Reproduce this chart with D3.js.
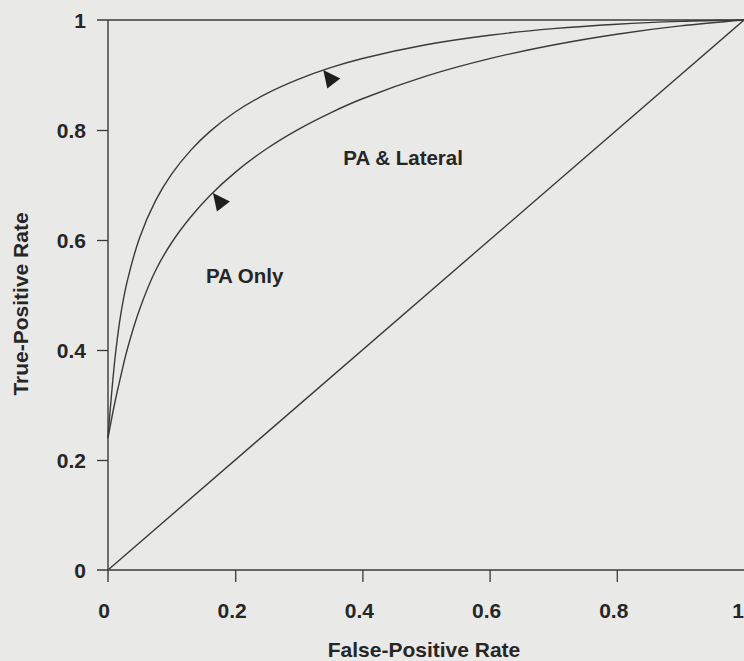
<!DOCTYPE html>
<html>
<head>
<meta charset="utf-8">
<script src="https://cdn.jsdelivr.net/npm/d3@7"></script>
<style>
  html, body { margin: 0; padding: 0; background: #e9e9e7; }
  svg { display: block; }
  text { font-family: "Liberation Sans", Arial, Helvetica, sans-serif; font-weight: bold; fill: #262626; }
</style>
</head>
<body>
<svg id="chart" width="744" height="661"></svg>
<script>
// ---- data ----
const tickValues = [0, 0.2, 0.4, 0.6, 0.8, 1];
const tickLabels = ["0", "0.2", "0.4", "0.6", "0.8", "1"];

// PA & Lateral ROC curve (FPR, TPR)
const paLateralFPR = [0, 0.003, 0.0074, 0.012, 0.02, 0.03, 0.05, 0.075, 0.10, 0.13, 0.16, 0.20, 0.25, 0.30, 0.35, 0.40, 0.50, 0.60, 0.70, 0.80, 0.90, 1];
const paLateralTPR = [0.24, 0.285, 0.343, 0.3955, 0.4645, 0.524, 0.605, 0.672, 0.7197, 0.763, 0.797, 0.8327, 0.8665, 0.8925, 0.9133, 0.930, 0.955, 0.9723, 0.9843, 0.9924, 0.9975, 1];

// PA Only ROC curve (FPR, TPR)
const paOnlyFPR = [0, 0.004, 0.01, 0.02, 0.03, 0.05, 0.075, 0.10, 0.13, 0.16, 0.20, 0.25, 0.30, 0.35, 0.40, 0.50, 0.60, 0.70, 0.80, 0.90, 1];
const paOnlyTPR = [0.24, 0.265, 0.300, 0.352, 0.400, 0.475, 0.545, 0.595, 0.6417, 0.6806, 0.723, 0.7663, 0.8016, 0.8313, 0.8568, 0.8979, 0.9297, 0.9546, 0.9742, 0.9893, 1];

// chance diagonal
const chanceFPR = [0, 1];
const chanceTPR = [0, 1];

// arrow markers (anchor points on curves)
const arrowFPR = [0.3385, 0.165];
const arrowTPR = [0.909, 0.6855];

// curve labels
const labelNames = ["PA & Lateral", "PA Only"];
const labelFPR = [0.37, 0.154];
const labelTPR = [0.736, 0.522];

const xTitle = "False-Positive Rate";
const yTitle = "True-Positive Rate";

// ---- drawing ----
const svg = d3.select("#chart");
const x = d3.scaleLinear().domain([0, 1]).range([108, 744]);
const y = d3.scaleLinear().domain([0, 1]).range([570, 20]);
const lineColor = "#3a3a3a";
const tickLen = 11;

// Y axis
const yAxis = d3.axisLeft(y).tickValues(tickValues.filter(v => v > 0 && v < 1))
  .tickSize(tickLen).tickFormat("");
const gy = svg.append("g").attr("transform", `translate(${x(0)},0)`).call(yAxis);
gy.select(".domain").remove();
gy.selectAll(".tick line").attr("stroke", lineColor).attr("stroke-width", 1.3);

// X axis
const xAxis = d3.axisBottom(x).tickValues(tickValues.filter(v => v > 0 && v < 1))
  .tickSize(tickLen + 1).tickFormat("");
const gx = svg.append("g").attr("transform", `translate(0,${y(0)})`).call(xAxis);
gx.select(".domain").remove();
gx.selectAll(".tick line").attr("stroke", lineColor).attr("stroke-width", 1.3);

// axis lines and frame top
svg.append("line").attr("x1", x(0)).attr("x2", x(0)).attr("y1", y(1)).attr("y2", y(0) + tickLen + 1)
  .attr("stroke", lineColor).attr("stroke-width", 1.4);
svg.append("line").attr("x1", x(0) - tickLen).attr("x2", x(1)).attr("y1", y(0)).attr("y2", y(0))
  .attr("stroke", lineColor).attr("stroke-width", 1.4);
svg.append("line").attr("x1", x(0) - tickLen).attr("x2", x(1)).attr("y1", y(1)).attr("y2", y(1))
  .attr("stroke", lineColor).attr("stroke-width", 1.4);

// tick labels
svg.append("g").selectAll("text").data(tickValues).join("text")
  .attr("x", 86).attr("y", d => y(d)).attr("dy", "0.36em")
  .attr("text-anchor", "end").attr("font-size", 21)
  .text((d, i) => tickLabels[i]);
svg.append("g").selectAll("text").data(tickValues).join("text")
  .attr("x", d => d === 1 ? x(d) : x(d) - (d === 0 ? 4 : 3)).attr("y", 618)
  .attr("text-anchor", d => d === 1 ? "end" : "middle").attr("font-size", 21)
  .text((d, i) => tickLabels[i]);

// axis titles
svg.append("text").attr("x", 424).attr("y", 657).attr("text-anchor", "middle")
  .attr("font-size", 21).text(xTitle);
svg.append("text").attr("transform", `translate(28,304) rotate(-90)`)
  .attr("text-anchor", "middle").attr("font-size", 21).text(yTitle);

// curves
const smooth = d3.line().x(d => x(d[0])).y(d => y(d[1])).curve(d3.curveCatmullRom.alpha(0.5));
const straight = d3.line().x(d => x(d[0])).y(d => y(d[1]));
const series = [
  d3.zip(chanceFPR, chanceTPR),
  d3.zip(paLateralFPR, paLateralTPR),
  d3.zip(paOnlyFPR, paOnlyTPR)
];
svg.append("g").selectAll("path").data(series).join("path")
  .attr("d", (d, i) => i === 0 ? straight(d) : smooth(d))
  .attr("fill", "none").attr("stroke", lineColor).attr("stroke-width", 1.4);

// arrowheads
svg.append("g").selectAll("path").data(d3.zip(arrowFPR, arrowTPR)).join("path")
  .attr("transform", d => `translate(${x(d[0])},${y(d[1])})`)
  .attr("d", "M0,0 L17,8.5 L4,18.5 Z")
  .attr("fill", "#1e1e1e");

// curve labels
svg.append("g").selectAll("text").data(labelNames).join("text")
  .attr("x", (d, i) => x(labelFPR[i])).attr("y", (d, i) => y(labelTPR[i]))
  .attr("font-size", 20.5).text(d => d);
</script>
</body>
</html>
